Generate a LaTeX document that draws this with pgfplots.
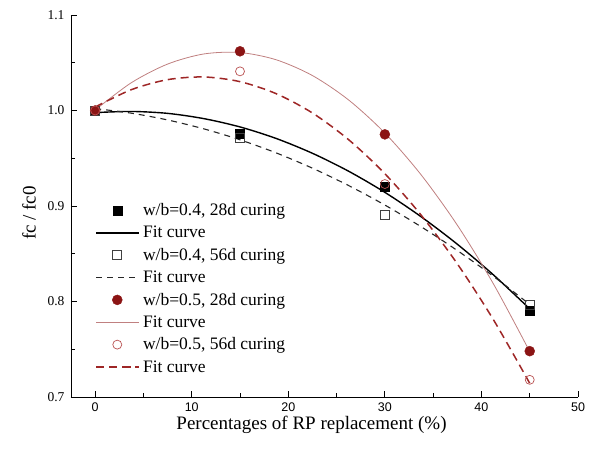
\documentclass[border=0pt]{standalone}
\usepackage{fontspec}
\setmainfont{Liberation Serif}
\setsansfont{Liberation Sans}
\usepackage{pgfplots}
\pgfplotsset{compat=1.18}
\definecolor{dred}{HTML}{8B1414}
\definecolor{lred}{HTML}{C08080}
\definecolor{mred}{HTML}{9E2626}
\definecolor{ored}{HTML}{B85050}
\begin{document}
\begin{tikzpicture}[x=1pt,y=1pt]
\path (-71,-57) rectangle (525,397);
\begin{axis}[at={(0,0)}, anchor=south west, scale only axis, width=507pt, height=382pt,
 xmin=-2.5, xmax=50, ymin=0.7, ymax=1.1,
 axis x line=bottom, axis y line=left, axis line style={-, line width=0.9pt},
 tick align=inside, major tick length=6pt, minor tick length=4pt,
 xtick={0,10,...,50}, ytick={0.7,0.8,0.9,1.0,1.1}, minor x tick num=1, minor y tick num=1,
 every tick/.style={black, line width=0.9pt},
 /pgf/number format/assume math mode=true,
 x tick label style={font=\fontsize{12.5}{14}\sffamily, yshift=-2pt},
 y tick label style={font=\fontsize{13.5}{15}\selectfont, xshift=-3pt, /pgf/number format/.cd, fixed, fixed zerofill, precision=1},
 xlabel={Percentages of RP replacement (\%)},
 ylabel={fc / fc0},
 label style={font=\fontsize{19}{22}\selectfont},
 xlabel style={xshift=-13pt, yshift=2pt},
 ylabel style={yshift=5pt, xshift=-7pt},
 legend style={draw=none, fill=none, at={(0.048,0.512)}, anchor=north west, font=\fontsize{17.5}{19}\selectfont, row sep=5pt, inner sep=0pt, cells={anchor=west}, nodes={inner xsep=4pt}},
 legend image code/.code={\draw[mark repeat=2,mark phase=2,#1] plot coordinates {(0pt,0pt) (21pt,0pt) (42pt,0pt)};},
]
\addplot[only marks, mark=square*, mark size=4.5pt, black] coordinates {(0,1.0)(15,0.976)(30,0.920)(45,0.790)};
\addlegendentry{w/b=0.4, 28d curing}
\addplot[black, line width=1.4pt, smooth, no marks] coordinates {
(0,0.9978)(3.75,0.9990)(7.5,0.9970)(11.25,0.9915)(15,0.9828)(18.75,0.9707)(22.5,0.9552)(26.25,0.9364)(30,0.9143)(33.75,0.8888)(37.5,0.8600)(41.25,0.8278)(45,0.7923)};
\addlegendentry{Fit curve}
\addplot[only marks, mark=square, mark size=4.5pt, black!75, mark options={line width=0.7pt}] coordinates {(0,1.0)(15,0.971)(30,0.891)(45,0.796)};
\addlegendentry{w/b=0.4, 56d curing}
\addplot[black!85, line width=1.1pt, dash pattern=on 6pt off 5pt, smooth, no marks] coordinates {
(0,1.0020)(3.75,0.9972)(7.5,0.9901)(11.25,0.9808)(15,0.9693)(18.75,0.9556)(22.5,0.9396)(26.25,0.9214)(30,0.9010)(33.75,0.8783)(37.5,0.8534)(41.25,0.8263)(45,0.7969)};
\addlegendentry{Fit curve}
\addplot[only marks, mark=*, mark size=5pt, dred] coordinates {(0,1.0)(15,1.062)(30,0.975)(45,0.748)};
\addlegendentry{w/b=0.5, 28d curing}
\addplot[lred, line width=0.8pt, smooth, no marks] coordinates {
(0,1.0005)(3.75,1.0291)(7.5,1.0486)(11.25,1.0592)(15,1.0607)(18.75,1.0531)(22.5,1.0366)(26.25,1.0110)(30,0.9764)(33.75,0.9327)(37.5,0.8800)(41.25,0.8183)(45,0.7476)};
\addlegendentry{Fit curve}
\addplot[only marks, mark=o, mark size=4.5pt, ored, mark options={line width=0.7pt}] coordinates {(0,1.0)(15,1.041)(30,0.923)(45,0.718)};
\addlegendentry{w/b=0.5, 56d curing}
\addplot[mred, line width=1.5pt, dash pattern=on 8pt off 5pt, smooth, no marks] coordinates {
(0,1.0036)(3.75,1.0218)(7.5,1.0323)(11.25,1.0351)(15,1.0302)(18.75,1.0176)(22.5,0.9974)(26.25,0.9694)(30,0.9338)(33.75,0.8905)(37.5,0.8395)(41.25,0.7808)(45,0.7144)};
\addlegendentry{Fit curve}
\end{axis}
\end{tikzpicture}
\end{document}
